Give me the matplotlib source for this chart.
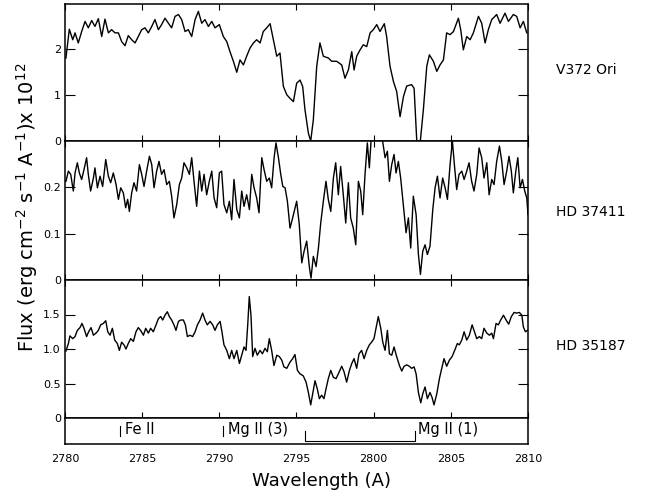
import matplotlib
matplotlib.use('Agg')
import matplotlib.pyplot as plt

plt.rcParams['font.family'] = ['DejaVu Sans']
plt.rcParams['mathtext.default'] = 'regular'

stars = ['V372 Ori', 'HD 37411', 'HD 35187']

# V372 Ori, flux x 1e12
v372_wave = [2780.06, 2780.28, 2780.50, 2780.65, 2780.86, 2781.08, 2781.30, 2781.51, 2781.73, 2781.94,
             2782.16, 2782.38, 2782.59, 2782.81, 2783.02, 2783.24, 2783.46, 2783.67, 2783.89, 2784.10,
             2784.32, 2784.54, 2784.75, 2784.97, 2785.18, 2785.40, 2785.62, 2785.83, 2786.05, 2786.26,
             2786.48, 2786.70, 2786.91, 2787.13, 2787.35, 2787.56, 2787.78, 2787.99, 2788.21, 2788.43,
             2788.64, 2788.86, 2789.07, 2789.29, 2789.51, 2789.72, 2790.00, 2790.26, 2790.48, 2790.69,
             2790.91, 2791.13, 2791.34, 2791.56, 2791.77, 2791.99, 2792.21, 2792.42, 2792.64, 2792.85,
             2793.07, 2793.29, 2793.50, 2793.72, 2793.93, 2794.15, 2794.37,
             2794.58, 2794.80, 2795.01, 2795.23, 2795.40, 2795.55, 2795.77, 2795.92, 2796.09, 2796.31,
             2796.52, 2796.74, 2797.07, 2797.28, 2797.60, 2797.93, 2798.14, 2798.36, 2798.58, 2798.73,
             2798.90, 2799.12, 2799.33, 2799.55, 2799.77, 2799.98, 2800.20, 2800.41, 2800.69, 2800.84,
             2801.06, 2801.28, 2801.49, 2801.71, 2801.93, 2802.14, 2802.46, 2802.62, 2802.79, 2803.01,
             2803.22, 2803.44, 2803.61, 2803.87, 2804.09, 2804.30, 2804.52, 2804.73, 2804.95, 2805.17,
             2805.49, 2805.64, 2805.81, 2806.03, 2806.25, 2806.46, 2806.79, 2807.00, 2807.22, 2807.43,
             2807.65, 2807.97, 2808.19, 2808.51, 2808.73, 2809.05, 2809.27, 2809.49, 2809.70, 2809.92]
v372_flux = [1.81, 2.44, 2.21, 2.36, 2.14, 2.39, 2.61, 2.47, 2.63, 2.50,
             2.67, 2.28, 2.66, 2.36, 2.43, 2.36, 2.36, 2.17, 2.08, 2.30,
             2.21, 2.14, 2.28, 2.43, 2.47, 2.36, 2.50, 2.65, 2.43, 2.54,
             2.68, 2.57, 2.47, 2.72, 2.76, 2.65, 2.39, 2.43, 2.28, 2.65,
             2.83, 2.57, 2.65, 2.50, 2.61, 2.47, 2.54, 2.28, 2.17, 1.95,
             1.74, 1.50, 1.77, 1.66, 1.85, 2.03, 2.14, 2.21, 2.14, 2.39,
             2.47, 2.56, 2.21, 1.85, 1.92, 1.19, 1.01,
             0.93, 0.86, 1.26, 1.33, 1.19, 0.68, 0.17, 0.00, 0.46, 1.63,
             2.14, 1.85, 1.81, 1.74, 1.74, 1.66, 1.37, 1.55, 1.95, 1.55,
             1.85, 1.99, 2.10, 2.06, 2.36, 2.43, 2.54, 2.39, 2.56, 2.28,
             1.63, 1.30, 1.08, 0.53, 0.97, 1.20, 1.23, 1.15, 0.02, -0.05,
             0.68, 1.63, 1.88, 1.74, 1.52, 1.66, 1.77, 2.36, 2.32, 2.39,
             2.68, 2.43, 1.99, 2.28, 2.21, 2.36, 2.72, 2.57, 2.14, 2.43,
             2.65, 2.76, 2.57, 2.79, 2.61, 2.76, 2.72, 2.47, 2.61, 2.36]

# HD 37411
hd37411_wave = [2780.06, 2780.22, 2780.37, 2780.54, 2780.65, 2780.80, 2780.93, 2781.08, 2781.23, 2781.40,
                2781.51, 2781.66, 2781.84, 2781.94, 2782.10, 2782.27, 2782.44, 2782.64, 2782.81, 2782.96,
                2783.13, 2783.31, 2783.46, 2783.61, 2783.78, 2783.93, 2784.06, 2784.17, 2784.32, 2784.47,
                2784.64, 2784.82, 2784.97, 2785.12, 2785.29, 2785.47, 2785.62, 2785.77, 2785.94, 2786.09,
                2786.26, 2786.42, 2786.59, 2786.76, 2786.91, 2787.06, 2787.24, 2787.41, 2787.56, 2787.71,
                2787.89, 2788.06, 2788.21, 2788.36, 2788.53, 2788.71, 2788.86, 2789.01, 2789.18, 2789.35,
                2789.51, 2789.66, 2789.83, 2790.00, 2790.15, 2790.30, 2790.48, 2790.65, 2790.80, 2790.95,
                2791.13, 2791.30, 2791.45, 2791.60, 2791.77, 2791.95, 2792.10, 2792.25, 2792.42, 2792.57,
                2792.75, 2792.90, 2793.07, 2793.24, 2793.39, 2793.55, 2793.67, 2793.83, 2793.98, 2794.11,
                2794.26, 2794.41,
                2794.58, 2794.75, 2795.01, 2795.18, 2795.34, 2795.49, 2795.66, 2795.83, 2795.94, 2796.09,
                2796.27, 2796.42, 2796.57, 2796.74, 2796.91, 2797.06, 2797.22, 2797.39, 2797.54, 2797.71,
                2797.86, 2798.04, 2798.19, 2798.36, 2798.51, 2798.68, 2798.84, 2799.01, 2799.16, 2799.29,
                2799.44, 2799.59, 2799.72, 2799.83, 2800.05, 2800.40, 2800.58, 2800.74, 2800.89, 2801.02,
                2801.17, 2801.32, 2801.45, 2801.60, 2801.75, 2801.92, 2802.10, 2802.25, 2802.40, 2802.57,
                2802.75, 2802.90, 2803.03, 2803.18, 2803.33, 2803.48, 2803.65, 2803.83, 2803.98, 2804.13,
                2804.30, 2804.47, 2804.63, 2804.78, 2804.95, 2805.10, 2805.23, 2805.38, 2805.53, 2805.71,
                2805.86, 2806.03, 2806.18, 2806.35, 2806.50, 2806.68, 2806.83, 2807.00, 2807.15, 2807.33,
                2807.48, 2807.65, 2807.80, 2807.97, 2808.15, 2808.30, 2808.45, 2808.62, 2808.77, 2808.92,
                2809.05, 2809.21, 2809.34, 2809.49, 2809.64, 2809.79, 2809.92, 2810.00]
hd37411_flux = [0.213, 0.235, 0.228, 0.192, 0.231, 0.253, 0.231, 0.217, 0.238, 0.264,
                0.228, 0.192, 0.220, 0.242, 0.199, 0.224, 0.202, 0.260, 0.224, 0.210,
                0.231, 0.206, 0.174, 0.199, 0.188, 0.156, 0.174, 0.148, 0.188, 0.210,
                0.192, 0.249, 0.228, 0.202, 0.235, 0.267, 0.249, 0.199, 0.235, 0.256,
                0.228, 0.238, 0.206, 0.213, 0.181, 0.134, 0.163, 0.206, 0.220, 0.253,
                0.242, 0.228, 0.264, 0.213, 0.159, 0.235, 0.192, 0.228, 0.184, 0.213,
                0.235, 0.177, 0.156, 0.231, 0.235, 0.163, 0.145, 0.170, 0.130, 0.217,
                0.152, 0.134, 0.192, 0.159, 0.184, 0.152, 0.228, 0.199, 0.177, 0.145,
                0.264, 0.238, 0.213, 0.220, 0.199, 0.264, 0.296, 0.264, 0.228, 0.202,
                0.199, 0.170,
                0.112, 0.134, 0.170, 0.120, 0.037, 0.062, 0.084, 0.029, 0.004, 0.051,
                0.029, 0.069, 0.123, 0.170, 0.213, 0.174, 0.148, 0.220, 0.253, 0.184,
                0.245, 0.181, 0.123, 0.210, 0.134, 0.112, 0.076, 0.213, 0.192, 0.141,
                0.228, 0.296, 0.242, 0.300, 0.350, 0.340, 0.300, 0.264, 0.278, 0.213,
                0.249, 0.271, 0.231, 0.256, 0.220, 0.163, 0.102, 0.134, 0.069, 0.181,
                0.141, 0.055, 0.012, 0.062, 0.076, 0.055, 0.073, 0.152, 0.199, 0.224,
                0.177, 0.220, 0.199, 0.174, 0.249, 0.300, 0.249, 0.195, 0.228, 0.235,
                0.217, 0.235, 0.253, 0.213, 0.192, 0.228, 0.285, 0.264, 0.220, 0.253,
                0.184, 0.217, 0.206, 0.256, 0.289, 0.256, 0.206, 0.235, 0.267, 0.235,
                0.188, 0.235, 0.264, 0.199, 0.217, 0.192, 0.177, 0.141]

# HD 35187
hd35187_wave = [2780.06, 2780.22, 2780.32, 2780.50, 2780.65, 2780.80, 2780.97, 2781.10, 2781.23, 2781.40,
                2781.53, 2781.69, 2781.84, 2782.01, 2782.16, 2782.31, 2782.48, 2782.64, 2782.77, 2782.92,
                2783.07, 2783.22, 2783.39, 2783.52, 2783.67, 2783.82, 2783.95, 2784.10, 2784.26, 2784.43,
                2784.60, 2784.75, 2784.90, 2785.08, 2785.23, 2785.40, 2785.55, 2785.72, 2785.90, 2786.05,
                2786.20, 2786.33, 2786.48, 2786.63, 2786.76, 2786.91, 2787.06, 2787.19, 2787.35, 2787.50,
                2787.67, 2787.80, 2787.93, 2788.10, 2788.27, 2788.43, 2788.58, 2788.75, 2788.92, 2789.07,
                2789.22, 2789.40, 2789.57, 2789.72, 2789.87, 2790.05, 2790.17, 2790.30, 2790.48, 2790.65,
                2790.80, 2790.95, 2791.13, 2791.30, 2791.45, 2791.60, 2791.73, 2791.84, 2791.94, 2792.05,
                2792.16, 2792.31, 2792.46, 2792.64, 2792.79, 2792.96, 2793.11, 2793.24, 2793.39, 2793.54,
                2793.72, 2793.89, 2794.04, 2794.19, 2794.37,
                2794.58, 2794.75, 2794.90, 2795.06, 2795.23, 2795.44, 2795.62, 2795.77, 2795.92, 2796.05,
                2796.20, 2796.35, 2796.48, 2796.63, 2796.78, 2796.91, 2797.06, 2797.22, 2797.39, 2797.56,
                2797.71, 2797.93, 2798.08, 2798.25, 2798.43, 2798.58, 2798.73, 2798.90, 2799.05, 2799.22,
                2799.38, 2799.55, 2799.72, 2799.87, 2800.02, 2800.15, 2800.30, 2800.46, 2800.59, 2800.74,
                2800.89, 2801.02, 2801.17, 2801.32, 2801.49, 2801.67, 2801.82, 2801.97, 2802.14, 2802.31,
                2802.46, 2802.62, 2802.75, 2802.90, 2803.05, 2803.18, 2803.33, 2803.48, 2803.65, 2803.78,
                2803.91, 2804.09, 2804.26, 2804.41, 2804.56, 2804.73, 2804.91, 2805.08, 2805.25, 2805.42,
                2805.55, 2805.71, 2805.86, 2806.03, 2806.20, 2806.38, 2806.53, 2806.68, 2806.85, 2807.00,
                2807.15, 2807.33, 2807.50, 2807.65, 2807.76, 2807.93, 2808.08, 2808.23, 2808.41, 2808.58,
                2808.75, 2808.92, 2809.10, 2809.27, 2809.44, 2809.60, 2809.70, 2809.83, 2809.96]
hd35187_flux = [0.97, 1.08, 1.19, 1.15, 1.18, 1.27, 1.31, 1.37, 1.30, 1.18,
                1.25, 1.31, 1.20, 1.23, 1.27, 1.35, 1.37, 1.41, 1.25, 1.20,
                1.30, 1.13, 1.08, 0.98, 1.10, 1.06, 1.00, 1.08, 1.15, 1.11,
                1.25, 1.31, 1.27, 1.20, 1.30, 1.23, 1.30, 1.25, 1.35, 1.44,
                1.47, 1.42, 1.49, 1.54, 1.47, 1.42, 1.35, 1.27, 1.40, 1.42,
                1.42, 1.35, 1.18, 1.20, 1.18, 1.25, 1.35, 1.42, 1.52, 1.42,
                1.35, 1.40, 1.35, 1.27, 1.35, 1.40, 1.25, 1.06, 0.98, 0.86,
                0.98, 0.86, 0.98, 0.79, 0.91, 1.03, 0.98, 1.35, 1.76, 1.49,
                0.89, 1.01, 0.91, 0.98, 0.93, 1.01, 0.96, 1.15, 0.98, 0.76,
                0.91, 0.89, 0.84, 0.74, 0.72,
                0.81, 0.86, 0.92, 0.69, 0.64, 0.61, 0.52, 0.37, 0.19, 0.35,
                0.54, 0.42, 0.28, 0.33, 0.28, 0.42, 0.57, 0.69, 0.59, 0.57,
                0.64, 0.75, 0.67, 0.52, 0.69, 0.79, 0.86, 0.72, 0.93, 0.98,
                0.86, 0.98, 1.06, 1.10, 1.15, 1.30, 1.47, 1.30, 1.10, 0.98,
                1.27, 0.93, 0.91, 1.03, 0.89, 0.76, 0.68, 0.75, 0.77, 0.75,
                0.72, 0.74, 0.64, 0.37, 0.22, 0.35, 0.45, 0.28, 0.37, 0.30,
                0.19, 0.35, 0.57, 0.72, 0.86, 0.75, 0.84, 0.89, 0.98, 1.08,
                1.06, 1.13, 1.25, 1.13, 1.20, 1.35, 1.25, 1.15, 1.18, 1.15,
                1.30, 1.23, 1.20, 1.23, 1.15, 1.37, 1.35, 1.42, 1.49, 1.42,
                1.36, 1.47, 1.53, 1.52, 1.53, 1.49, 1.32, 1.25, 1.27]

waves = [v372_wave, hd37411_wave, hd35187_wave]
fluxes = [v372_flux, hd37411_flux, hd35187_flux]
ylims = [(0, 2.99), (0, 0.30), (0, 2.0)]
yticks = [[0, 1, 2], [0, 0.1, 0.2], [0, 0.5, 1.0, 1.5]]
ytick_labels = [['0', '1', '2'], ['0', '0.1', '0.2'], ['0', '0.5', '1.0', '1.5']]
label_y = [70, 212, 346]

# line identifications: (wavelength of tick, label)
line_ids = [(2783.56, 'Fe II'), (2790.24, 'Mg II (3)')]
mg_doublet = [2795.53, 2802.70]

W, H = 645, 493
fig = plt.figure(figsize=(W / 100, H / 100), dpi=100)
left, right = 65 / W, 528 / W
edges = [4, 141, 280, 418]

axes = []
for i in range(3):
    top, bot = edges[i], edges[i + 1]
    ax = fig.add_axes([left, 1 - bot / H, right - left, (bot - top) / H])
    ax.plot(waves[i], fluxes[i], color='black', lw=1.0)
    ax.set_xlim(2780, 2810)
    ax.set_ylim(*ylims[i])
    ax.set_yticks(yticks[i])
    ax.set_yticklabels(ytick_labels[i])
    ax.set_xticks([2780, 2785, 2790, 2795, 2800, 2805, 2810])
    ax.tick_params(axis='x', direction='in', top=True, bottom=True, length=4, labelbottom=False)
    ax.tick_params(axis='y', direction='in', left=True, right=True, length=7, labelsize=8, pad=3)
    for s in ax.spines.values():
        s.set_linewidth(1.1)
    fig.text(556 / W, 1 - label_y[i] / H, stars[i], fontsize=10, va='center', ha='left')
    axes.append(ax)

# strip with line identifications
ax4 = fig.add_axes([left, 1 - 444 / H, right - left, 26 / H])
ax4.set_xlim(2780, 2810)
ax4.set_ylim(0, 1)
ax4.set_yticks([])
ax4.set_xticks([2780, 2785, 2790, 2795, 2800, 2805, 2810])
ax4.tick_params(axis='x', length=0, labelsize=8, pad=7)
for s in ax4.spines.values():
    s.set_linewidth(1.1)

for wl, name in line_ids:
    ax4.plot([wl, wl], [0.31, 0.69], color='black', lw=0.8)
    ax4.text(wl + 0.35, 0.54, name, fontsize=10.5, va='center', ha='left')
ax4.plot([mg_doublet[0], mg_doublet[0], mg_doublet[1], mg_doublet[1]],
         [0.5, 0.12, 0.12, 0.5], color='black', lw=0.8)
ax4.text(mg_doublet[1] + 0.2, 0.54, 'Mg II (1)', fontsize=10.5, va='center', ha='left')

fig.text(27 / W, 1 - 207 / H, r'Flux (erg cm$^{-2}$ s$^{-1}$ A$^{-1}$)x 10$^{12}$',
         rotation=90, fontsize=14, va='center', ha='center')
fig.text(321 / W, 1 - 481 / H, 'Wavelength (A)', fontsize=13, va='center', ha='center')

fig.savefig('out.png', dpi=100)
